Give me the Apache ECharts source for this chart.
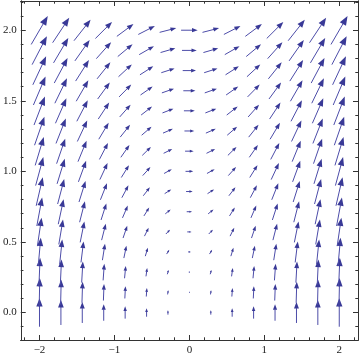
<!DOCTYPE html>
<html><head><meta charset="utf-8">
<script src="https://cdn.jsdelivr.net/npm/echarts@6/dist/echarts.min.js"></script>
<style>html,body{margin:0;padding:0;background:#fff}#c{width:360px;height:357px}</style>
</head><body><div id="c"></div>
<script>
// grid of sample points
const xPoints = [-2, -1.714, -1.429, -1.143, -0.857, -0.571, -0.286, 0, 0.286, 0.571, 0.857, 1.143, 1.429, 1.714, 2];
const yPoints = [0, 0.143, 0.286, 0.429, 0.571, 0.714, 0.857, 1, 1.143, 1.286, 1.429, 1.571, 1.714, 1.857, 2];
// horizontal component per row
const uByRow = [0, 0.09, 0.17, 0.37, 0.6, 0.76, 0.94, 1.1, 1.23, 1.41, 1.56, 1.73, 1.9, 2.11, 2.37];
// vertical component per column
const vByCol = [4.07, 3.57, 3.0, 2.36, 1.76, 1.21, 0.61, 0, 0.61, 1.21, 1.76, 2.36, 3.0, 3.57, 4.07];
// ticks
const xMajor = [-2, -1, 0, 1, 2];
const xMinor = [-2.2, -1.8, -1.6, -1.4, -1.2, -0.8, -0.6, -0.4, -0.2, 0.2, 0.4, 0.6, 0.8, 1.2, 1.4, 1.6, 1.8, 2.2];
const yMajor = [0, 0.5, 1, 1.5, 2];
const yMinor = [-0.1, 0.1, 0.2, 0.3, 0.4, 0.6, 0.7, 0.8, 0.9, 1.1, 1.2, 1.3, 1.4, 1.6, 1.7, 1.8, 1.9, 2.1, 2.2];

const data = [];
yPoints.forEach((y, j) => xPoints.forEach((x, i) => data.push([x, y, uByRow[j], vByCol[i]])));

const SCALE = 7; // px per field unit
const frameColor = '#333';
const font = {fontFamily: 'Liberation Serif', fontSize: 11, color: '#222'};

function xAx(pos, vals, len, labels) {
  return {type: 'value', min: -2.25, max: 2.25, position: pos,
    axisLine: {show: true, onZero: false, lineStyle: {color: frameColor, width: 1}},
    axisTick: {show: true, inside: true, length: len, customValues: vals, lineStyle: {color: frameColor}},
    axisLabel: labels ? Object.assign({show: true, margin: 5, customValues: vals,
      formatter: v => v < 0 ? '\u2212' + (-v) : String(v)}, font) : {show: false},
    splitLine: {show: false}};
}
function yAx(pos, vals, len, labels) {
  return {type: 'value', min: -0.195, max: 2.207, position: pos,
    axisLine: {show: true, onZero: false, lineStyle: {color: frameColor, width: 1}},
    axisTick: {show: true, inside: true, length: len, customValues: vals, lineStyle: {color: frameColor}},
    axisLabel: labels ? Object.assign({show: true, margin: 4, customValues: vals,
      formatter: v => v.toFixed(1)}, font) : {show: false},
    splitLine: {show: false}};
}

const chart = echarts.init(document.getElementById('c'), null, {renderer: 'canvas'});
chart.setOption({
  animation: false,
  grid: {left: 19, right: 2, top: 1, bottom: 17},
  xAxis: [xAx('bottom', xMajor, 5, true), xAx('bottom', xMinor, 2.7, false),
          xAx('top', xMajor, 5, false), xAx('top', xMinor, 2.7, false)],
  yAxis: [yAx('left', yMajor, 5, true), yAx('left', yMinor, 2.7, false),
          yAx('right', yMajor, 5, false), yAx('right', yMinor, 2.7, false)],
  series: [{
    type: 'custom', xAxisIndex: 0, yAxisIndex: 0, data: data, clip: false,
    renderItem: function (params, api) {
      const c = api.coord([api.value(0), api.value(1)]);
      const dx = api.value(2) * SCALE, dy = -api.value(3) * SCALE;
      const L = Math.hypot(dx, dy);
      if (L < 0.2) return null;
      const ux = dx / L, uy = dy / L, px = -uy, py = ux;
      const tail = [c[0] - dx / 2, c[1] - dy / 2];
      const tip = [c[0] + dx / 2, c[1] + dy / 2];
      const hl = Math.min(0.22 * L + 2, 0.5 * L);
      const hw = 0.09 * L + 0.6;
      const base = [tip[0] - ux * hl, tip[1] - uy * hl];
      return {type: 'group', children: [
        {type: 'line', shape: {x1: tail[0], y1: tail[1], x2: base[0] + ux * 0.5, y2: base[1] + uy * 0.5},
         style: {stroke: '#4c4ca8', lineWidth: 1}},
        {type: 'polygon', shape: {points: [tip, [base[0] + px * hw, base[1] + py * hw], [base[0] - px * hw, base[1] - py * hw]]},
         style: {fill: '#393997'}}
      ]};
    }
  }]
});
</script></body></html>
